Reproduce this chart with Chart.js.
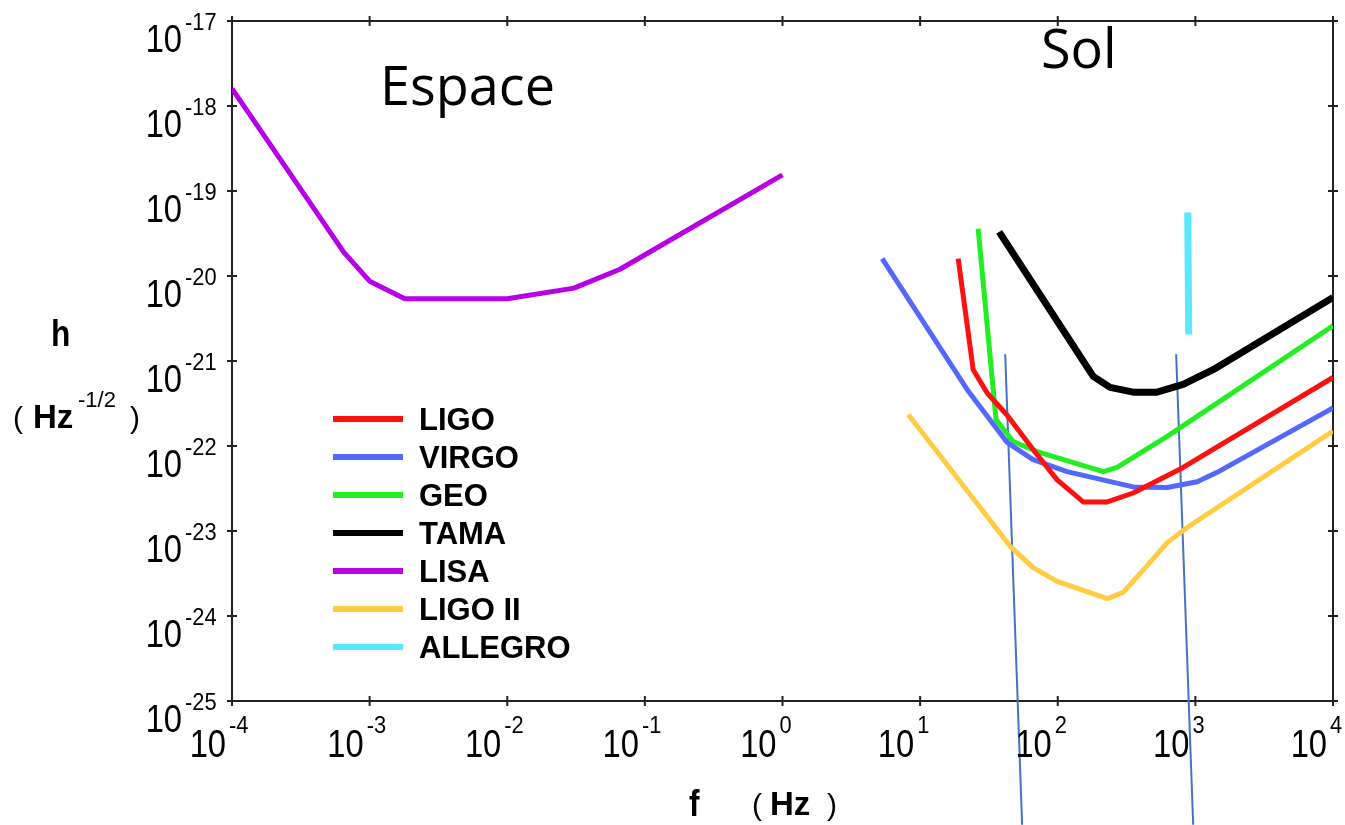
<!DOCTYPE html>
<html>
<head>
<meta charset="utf-8">
<script src="https://cdn.jsdelivr.net/npm/chart.js@4"></script>
<style>
  html, body { margin: 0; padding: 0; background: #fff; }
  canvas { display: block; }
</style>
</head>
<body>
<canvas id="chart" width="1345" height="825"></canvas>
<script>
// frequencies (Hz) and strain (Hz^-1/2)
const ligoF = [18.9, 24.3, 30.7, 42.9, 66.2, 99, 153, 229, 353, 815, 10000];
const ligoH = [1.6e-20, 7.9e-22, 4.2e-22, 2.3e-22, 9.1e-23, 4.0e-23, 2.2e-23, 2.2e-23, 2.8e-23, 5.6e-23, 6.4e-22];

const virgoF = [5.3, 22, 42.9, 66.2, 117, 353, 624, 1030, 1440, 10000];
const virgoH = [1.6e-20, 4.6e-22, 1.1e-22, 6.9e-23, 5.0e-23, 3.3e-23, 3.25e-23, 3.8e-23, 4.9e-23, 2.8e-22];

const geoF = [26.4, 35.6, 47.4, 70.8, 214, 270, 624, 10000];
const geoH = [3.6e-20, 2.05e-22, 1.13e-22, 8.6e-23, 5.0e-23, 5.6e-23, 1.3e-22, 2.6e-21];

const tamaF = [37.5, 181, 240, 353, 527, 815, 1346, 10000];
const tamaH = [3.3e-20, 6.6e-22, 4.9e-22, 4.3e-22, 4.3e-22, 5.3e-22, 7.9e-22, 5.6e-21];

const lisaF = [1e-4, 6.5e-4, 1e-3, 1.8e-3, 1e-2, 3.05e-2, 6.6e-2, 1];
const lisaH = [1.6e-18, 1.9e-20, 8.7e-21, 5.4e-21, 5.4e-21, 7.2e-21, 1.2e-20, 1.55e-19];

const ligo2F = [8.2, 45.1, 66.2, 99, 229, 299, 470, 624, 871, 10000];
const ligo2H = [2.35e-22, 6.6e-24, 3.7e-24, 2.55e-24, 1.6e-24, 1.9e-24, 4.3e-24, 7.3e-24, 1.1e-23, 1.5e-22];

const allegroF = [880, 895];
const allegroH = [5.6e-20, 2.05e-21];

// the two thin marker lines drawn over the figure
const mark1F = [41.5, 55.1];
const mark2F = [725, 964];
const markH = [1.2e-21, 3.5e-27];

const xExps = [-4, -3, -2, -1, 0, 1, 2, 3, 4];
const yExps = [-17, -18, -19, -20, -21, -22, -23, -24, -25];

const pts = (fs, hs) => fs.map((f, i) => ({ x: f, y: hs[i] }));

function curve(label, fs, hs, color, width) {
  return {
    label: label,
    data: pts(fs, hs),
    borderColor: color,
    borderWidth: width,
    borderJoinStyle: "round",
    pointRadius: 0,
    tension: 0,
    fill: false,
    legend: true
  };
}

const datasets = [
  curve("LIGO", ligoF, ligoH, "#ff1010", 5),
  curve("VIRGO", virgoF, virgoH, "#5468ff", 5),
  curve("GEO", geoF, geoH, "#22ee22", 5),
  curve("TAMA", tamaF, tamaH, "#000000", 7),
  curve("LISA", lisaF, lisaH, "#b800e6", 5),
  curve("LIGO II", ligo2F, ligo2H, "#ffcc44", 5),
  curve("ALLEGRO", allegroF, allegroH, "#5ae8ff", 7),
  { label: "m1", data: pts(mark1F, markH), borderColor: "#4472c4", borderWidth: 2, pointRadius: 0, clip: false },
  { label: "m2", data: pts(mark2F, markH), borderColor: "#4472c4", borderWidth: 2, pointRadius: 0, clip: false }
];

const SANS = '"Liberation Sans", Arial, sans-serif';

// text squeezed horizontally, the tick font of the original is narrow
function narrowText(ctx, text, x, y, font, align, sx) {
  ctx.save();
  ctx.font = font;
  ctx.textAlign = align;
  ctx.translate(x, y);
  ctx.scale(sx, 1);
  ctx.fillText(text, 0, 0);
  ctx.restore();
}

const framePlugin = {
  id: "frame",
  beforeDatasetsDraw(chart) {
    const ctx = chart.ctx;
    const a = chart.chartArea;
    const xs = chart.scales.x, ys = chart.scales.y;
    ctx.save();
    ctx.strokeStyle = "#222";
    ctx.lineWidth = 2;
    ctx.strokeRect(a.left, a.top, a.right - a.left, a.bottom - a.top);
    ctx.beginPath();
    xExps.forEach(e => {
      const px = xs.getPixelForValue(Math.pow(10, e));
      ctx.moveTo(px, a.bottom - 5); ctx.lineTo(px, a.bottom + 5);
      ctx.moveTo(px, a.top - 5); ctx.lineTo(px, a.top + 5);
    });
    yExps.forEach(e => {
      const py = ys.getPixelForValue(Math.pow(10, e));
      ctx.moveTo(a.left - 5, py); ctx.lineTo(a.left + 5, py);
      ctx.moveTo(a.right - 5, py); ctx.lineTo(a.right + 5, py);
    });
    ctx.stroke();
    ctx.restore();
  },
  afterDraw(chart) {
    const ctx = chart.ctx;
    const xs = chart.scales.x, ys = chart.scales.y;
    ctx.save();
    ctx.fillStyle = "#000";
    const big = "38px " + SANS;
    const sup = "23px " + SANS;

    // y tick labels
    yExps.forEach(e => {
      const py = ys.getPixelForValue(Math.pow(10, e));
      narrowText(ctx, "10", 182, py + 31, big, "right", 0.86);
      narrowText(ctx, String(e), 185, py + 9, sup, "left", 0.95);
    });

    // x tick labels
    xExps.forEach(e => {
      const px = xs.getPixelForValue(Math.pow(10, e));
      narrowText(ctx, "10", px - 6, 757, big, "right", 0.86);
      narrowText(ctx, String(e), px - 3, 733, sup, "left", 0.95);
    });

    // axis titles
    narrowText(ctx, "h", 51, 346, "bold 36px " + SANS, "left", 0.88);
    ctx.textAlign = "left";
    ctx.font = "30px " + SANS;
    ctx.fillText("(", 13, 428);
    ctx.fillText(")", 130, 428);
    ctx.font = "bold 33px " + SANS;
    ctx.fillText("Hz", 33, 428);
    ctx.font = "22px " + SANS;
    ctx.fillText("-1/2", 78, 407);
    narrowText(ctx, "f", 689, 816, "bold 36px " + SANS, "left", 0.88);
    ctx.textAlign = "left";
    ctx.font = "30px " + SANS;
    ctx.fillText("(", 752, 815);
    ctx.fillText(")", 827, 815);
    ctx.font = "bold 33px " + SANS;
    ctx.fillText("Hz", 770, 815);

    // region captions
    ctx.font = '54px "Open Sans", sans-serif';
    ctx.fillText("Espace", 380, 105);
    ctx.fillText("Sol", 1041, 68);

    // legend
    chart.data.datasets.filter(d => d.legend).forEach((d, i) => {
      const y = 419 + i * 38;
      ctx.strokeStyle = d.borderColor;
      ctx.lineWidth = 6;
      ctx.beginPath();
      ctx.moveTo(333, y);
      ctx.lineTo(403, y);
      ctx.stroke();
      ctx.font = "bold 31px " + SANS;
      ctx.fillStyle = "#000";
      ctx.fillText(d.label, 419, y + 11);
    });
    ctx.restore();
  }
};

new Chart(document.getElementById("chart"), {
  type: "line",
  data: { datasets: datasets },
  options: {
    responsive: false,
    animation: false,
    layout: { padding: { left: 232, right: 12, top: 21, bottom: 124 } },
    plugins: {
      legend: { display: false },
      tooltip: { enabled: false }
    },
    scales: {
      x: { type: "logarithmic", display: false, min: 1e-4, max: 1e4 },
      y: { type: "logarithmic", display: false, min: 1e-25, max: 1e-17 }
    }
  },
  plugins: [framePlugin]
});
</script>
</body>
</html>
